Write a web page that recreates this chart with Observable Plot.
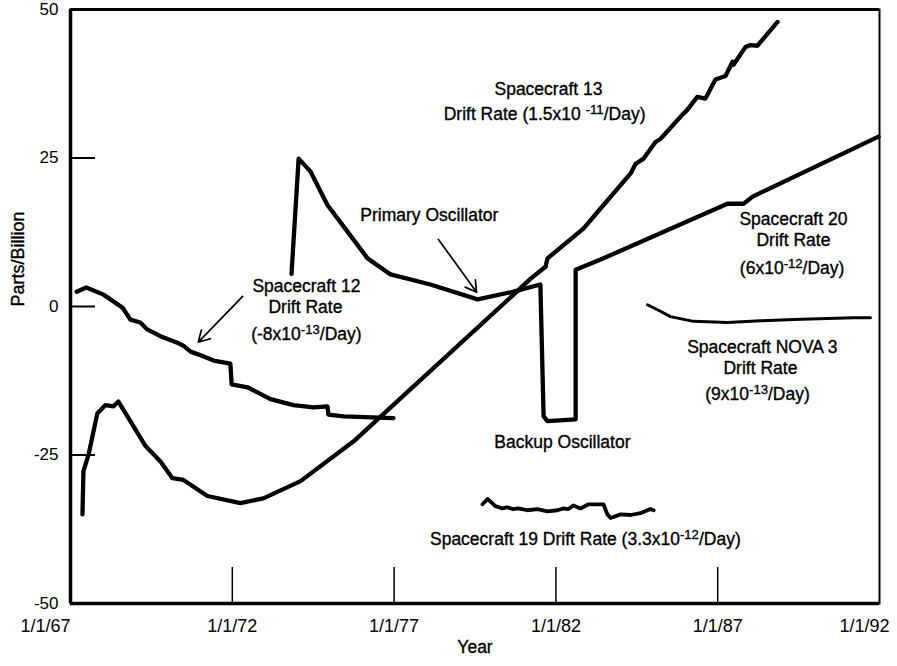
<!DOCTYPE html>
<html>
<head>
<meta charset="utf-8">
<script src="https://cdn.jsdelivr.net/npm/d3@7"></script>
<script src="https://cdn.jsdelivr.net/npm/@observablehq/plot@0.6"></script>
<style>
  html, body { margin: 0; padding: 0; background: #fff; }
  #chart { width: 897px; height: 666px; }
  svg text { font-family: "Liberation Sans", Arial, Helvetica, sans-serif; }
</style>
</head>
<body>
<div id="chart"></div>
<script>
// ---- Data (years as decimal years, values in parts per billion) ----
const sc12Year  = [1967.19, 1967.49, 1968.02, 1968.61, 1968.85, 1969.16, 1969.38, 1969.78, 1970.34, 1970.49, 1970.71, 1971.02, 1971.42, 1971.94, 1971.98, 1972.47, 1973.18, 1973.89, 1974.51, 1974.94, 1974.97, 1975.44, 1976.98];
const sc12Value = [2.5, 3.2, 2.0, -0.2, -2.2, -2.7, -3.9, -5.0, -6.2, -6.6, -7.6, -8.2, -9.1, -9.6, -13.1, -13.6, -15.6, -16.6, -17.0, -16.8, -18.2, -18.5, -18.8];

const sc13Year  = [1967.37, 1967.40, 1967.56, 1967.83, 1968.08, 1968.33, 1968.48, 1968.85, 1969.32, 1969.78, 1970.15, 1970.49, 1971.23, 1972.25, 1972.96, 1974.11, 1975.75, 1980.69, 1981.22, 1981.68, 1981.74, 1982.85, 1983.38, 1984.31, 1984.46, 1984.71, 1985.08, 1985.23, 1985.91, 1986.06, 1986.37, 1986.62, 1986.93, 1987.24, 1987.46, 1987.49, 1987.86, 1988.01, 1988.23, 1988.32, 1988.85];
const sc13Value = [-35.0, -27.7, -24.9, -18.0, -16.6, -16.8, -16.0, -19.3, -23.5, -26.1, -28.9, -29.2, -31.9, -33.1, -32.3, -29.4, -22.7, 2.0, 4.7, 6.7, 8.1, 13.1, 16.5, 22.4, 24.0, 24.9, 27.7, 28.2, 32.3, 33.1, 35.3, 35.0, 38.2, 38.8, 41.2, 40.7, 43.7, 44.0, 43.9, 44.5, 47.9];

const primaryYear  = [1973.83, 1974.05, 1974.42, 1974.94, 1975.56, 1976.18, 1976.89, 1978.12, 1979.58, 1980.69, 1981.52, 1981.62, 1981.74, 1982.61, 1982.61, 1983.38, 1987.30, 1987.80, 1988.08, 1991.97];
const primaryValue = [5.5, 24.9, 22.7, 17.1, 12.6, 8.1, 5.4, 3.7, 1.2, 2.5, 3.7, -18.5, -19.3, -19.0, 6.2, 7.9, 17.3, 17.3, 18.5, 28.6];

const sc19Year  = [1979.73, 1979.89, 1980.13, 1980.35, 1980.50, 1980.66, 1980.84, 1981.12, 1981.43, 1981.74, 1982.05, 1982.23, 1982.39, 1982.54, 1982.76, 1983.01, 1983.29, 1983.47, 1983.59, 1983.69, 1984.00, 1984.31, 1984.61, 1984.92, 1985.02];
const sc19Value = [-33.3, -32.4, -33.6, -34.0, -33.8, -34.1, -34.0, -34.3, -34.1, -34.5, -34.3, -34.0, -34.1, -33.5, -34.0, -33.3, -33.3, -33.3, -35.0, -35.6, -35.0, -35.1, -34.8, -34.1, -34.3];

const nova3Year  = [1984.83, 1985.23, 1985.54, 1986.25, 1987.30, 1988.32, 1989.34, 1990.39, 1991.20, 1991.72];
const nova3Value = [0.3, -0.8, -1.7, -2.5, -2.7, -2.4, -2.2, -2.0, -1.9, -1.9];

const xTickYears  = [1967, 1972, 1977, 1982, 1987, 1992];
const xTickLabels = ["1/1/67", "1/1/72", "1/1/77", "1/1/82", "1/1/87", "1/1/92"];
const yTickValues = [-50, -25, 0, 25, 50];
const yInnerTicks = [-25, 0, 25];
const xInnerTicks = [1972, 1977, 1982, 1987];

// ---- Build series tables ----
const toRows = (years, values) => years.map((x, i) => ({x, y: values[i]}));
const sc12 = toRows(sc12Year, sc12Value);
const sc13 = toRows(sc13Year, sc13Value);
const primary = toRows(primaryYear, primaryValue);
const sc19 = toRows(sc19Year, sc19Value);
const nova3 = toRows(nova3Year, nova3Value);

const W = 897, H = 666;
const mL = 70, mR = 18, mT = 9, mB = 63;
const innerW = W - mL - mR, innerH = H - mT - mB;
const labelMap = new Map(xTickYears.map((y, i) => [y, xTickLabels[i]]));
const FS = 17.5;
const TS = 18;

const lineOpts = {x: "x", y: "y", stroke: "#000", strokeWidth: 4.3, strokeLinejoin: "round", strokeLinecap: "round"};
const textOpts = {fill: "#000", fontSize: FS, stroke: "#000", strokeWidth: 0.35, fontFamily: "Liberation Sans, Arial, sans-serif"};
const tickTextOpts = {fill: "#000", fontSize: TS, stroke: "#000", strokeWidth: 0.35};

const chart = Plot.plot({
  width: W,
  height: H,
  marginLeft: mL,
  marginRight: mR,
  marginTop: mT,
  marginBottom: mB,
  style: {background: "#fff", fontFamily: "Liberation Sans, Arial, sans-serif"},
  x: {domain: [1967, 1992]},
  y: {domain: [-50, 50]},
  marks: [
    // axes labels
    Plot.axisY(yTickValues, {tickSize: 0, tickPadding: 12, label: null, tickFormat: d => String(d), ...tickTextOpts, fontSize: 17}),
    Plot.axisX(xTickYears.slice(1, -1), {tickSize: 0, tickPadding: 16, label: null, tickFormat: d => labelMap.get(d), ...tickTextOpts}),
    Plot.axisX([xTickYears[0]], {tickSize: 0, tickPadding: 16, label: null, tickFormat: d => labelMap.get(d), textAnchor: "end", ...tickTextOpts}),
    Plot.axisX([xTickYears[xTickYears.length - 1]], {tickSize: 0, tickPadding: 16, label: null, tickFormat: d => labelMap.get(d), dx: -15, ...tickTextOpts}),
    Plot.text(["Parts/Billion"], {frameAnchor: "left", dx: -52, rotate: -90, ...textOpts, fontSize: 18}),
    Plot.text(["Year"], {frameAnchor: "bottom", dy: 49, ...textOpts}),
    // inner ticks
    Plot.tickY(yInnerTicks, {y: d => d, insetRight: innerW - 25, stroke: "#000", strokeWidth: 2}),
    Plot.tickX(xInnerTicks, {x: d => d, insetTop: innerH - 36, stroke: "#000", strokeWidth: 1.5}),
    // frame
    Plot.frame({stroke: "#000", strokeWidth: 2}),
    Plot.ruleX([1967], {stroke: "#000", strokeWidth: 3.5}),
    Plot.ruleY([-50], {stroke: "#000", strokeWidth: 3.5}),
    Plot.ruleY([50], {stroke: "#000", strokeWidth: 3}),
    // series
    Plot.line(sc12, lineOpts),
    Plot.line(sc13, lineOpts),
    Plot.line(primary, lineOpts),
    Plot.line(sc19, {...lineOpts, strokeWidth: 3.8}),
    Plot.line(nova3, {...lineOpts, strokeWidth: 3}),
    // arrows
    Plot.arrow([0], {x1: 1978.37, y1: 11.3, x2: 1979.55, y2: 2.4, stroke: "#000", strokeWidth: 1.7, headLength: 11}),
    Plot.arrow([0], {x1: 1972.32, y1: 1.7, x2: 1970.95, y2: -6.0, stroke: "#000", strokeWidth: 1.7, headLength: 11}),
    // annotations
    Plot.text(["Spacecraft 13"], {x: 1981.77, y: 36.6, ...textOpts}),
    Plot.text(["Drift Rate (1.5x10 ^{-11}/Day)"], {x: 1981.65, y: 32.3, ...textOpts}),
    Plot.text(["Primary Oscillator"], {x: 1978.09, y: 15.3, ...textOpts}),
    Plot.text(["Spacecraft 12"], {x: 1974.29, y: 3.4, ...textOpts}),
    Plot.text(["Drift Rate"], {x: 1974.26, y: -0.2, ...textOpts}),
    Plot.text(["(-8x10^{-13}/Day)"], {x: 1974.29, y: -4.7, ...textOpts}),
    Plot.text(["Backup Oscillator"], {x: 1982.2, y: -22.9, ...textOpts}),
    Plot.text(["Spacecraft 19 Drift Rate (3.3x10^{-12}/Day)"], {x: 1982.91, y: -39.2, ...textOpts}),
    Plot.text(["Spacecraft 20"], {x: 1989.34, y: 14.6, ...textOpts}),
    Plot.text(["Drift Rate"], {x: 1989.34, y: 11.1, ...textOpts}),
    Plot.text(["(6x10^{-12}/Day)"], {x: 1989.3, y: 6.4, ...textOpts}),
    Plot.text(["Spacecraft NOVA 3"], {x: 1988.38, y: -6.9, ...textOpts}),
    Plot.text(["Drift Rate"], {x: 1988.32, y: -10.4, ...textOpts}),
    Plot.text(["(9x10^{-13}/Day)"], {x: 1988.23, y: -14.8, ...textOpts})
  ]
});

// Convert ^{...} markers into real superscript tspans
d3.select(chart).selectAll("text").each(function() {
  const t = this.textContent;
  if (!t.includes("^{")) return;
  const m = t.match(/^(.*)\^\{(.*?)\}(.*)$/);
  if (!m) return;
  const sel = d3.select(this);
  sel.text(null);
  sel.append("tspan").text(m[1]);
  sel.append("tspan").attr("dy", "-0.45em").attr("font-size", "0.75em").text(m[2]);
  sel.append("tspan").attr("dy", "0.34em").text(m[3]);
});

document.getElementById("chart").appendChild(chart);
</script>
</body>
</html>
